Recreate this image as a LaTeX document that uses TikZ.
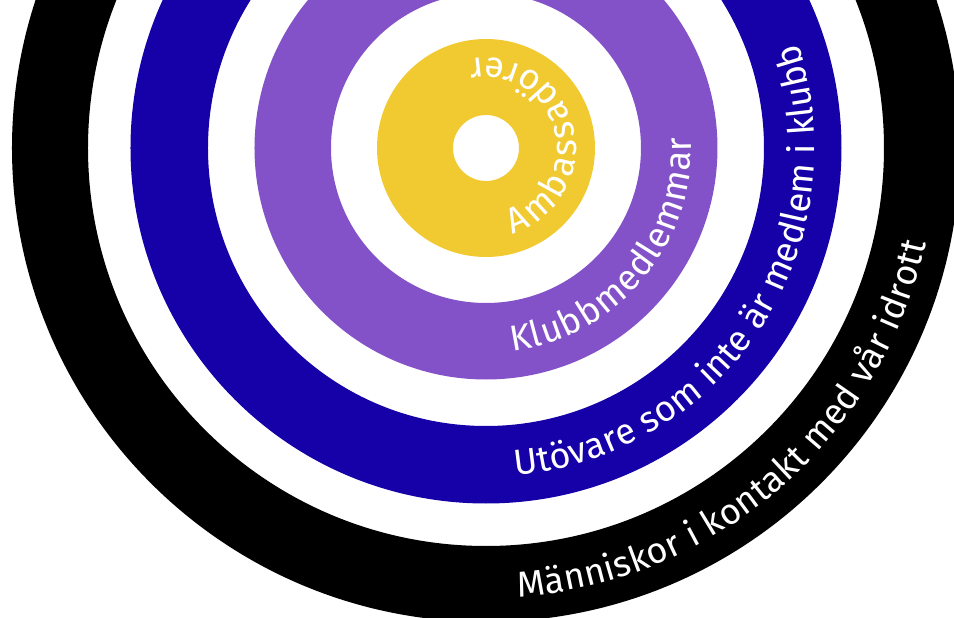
\documentclass[tikz,border=0pt]{standalone}
\usepackage{fontspec}
\setmainfont{Fira Sans}
\usetikzlibrary{decorations.text}
\definecolor{ringyellow}{RGB}{240,202,48}
\definecolor{ringpurple}{RGB}{132,82,200}
\definecolor{ringblue}{RGB}{22,0,168}
\newcommand{\ringfont}{\fontsize{36}{36}\selectfont}
\tikzset{
  ringlabel/.style={decorate, decoration={text along path, text color=white,
      text align={fit to path}, text={|\ringfont|#1}}}
}
\begin{document}
\begin{tikzpicture}[x=1pt,y=1pt]
\useasboundingbox (-486,-470) rectangle (468,148);
\clip (-486,-470) rectangle (468,148);
\fill[white] (-486,-470) rectangle (468,148);
\coordinate (c) at (0,0);
\fill[black, even odd rule] (c) circle[radius=474] (c) circle[radius=398];
\fill[ringblue, even odd rule] (c) circle[radius=355.5] (c) circle[radius=278];
\fill[ringpurple, even odd rule] (c) circle[radius=231.5] (c) circle[radius=155];
\fill[ringyellow, even odd rule] (c) circle[radius=109] (c) circle[radius=33];
\path[ringlabel={Ambassadörer}] (-72.8:90) arc[start angle=-72.8, end angle=101, radius=90];
\path[ringlabel={Klubbmedlemmar}] (-82.7:205) arc[start angle=-82.7, end angle=3, radius=205];
\path[ringlabel={Utövare som inte är medlem i klubb}] (-84.9:329) arc[start angle=-84.9, end angle=18.6, radius=329];
\path[ringlabel={Människor i kontakt med vår idrott}] (-85.9:450) arc[start angle=-85.9, end angle=-12.2, radius=450];
\end{tikzpicture}
\end{document}
